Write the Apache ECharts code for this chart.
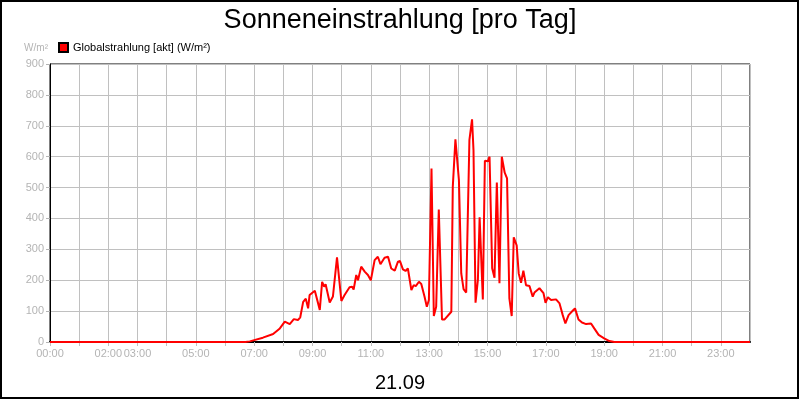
<!DOCTYPE html>
<html>
<head>
<meta charset="utf-8">
<title>Sonneneinstrahlung</title>
<script src="https://cdn.jsdelivr.net/npm/echarts@6/dist/echarts.min.js"></script>
<style>
  html, body { margin: 0; padding: 0; background: #fff; }
  #chart { width: 800px; height: 400px; }
</style>
</head>
<body>
<div id="chart"></div>
<script>
// Zeitpunkte (Stunden des Tages) und Messwerte Globalstrahlung in W/m²
var hours = [
  0, 6.7, 6.85, 7.0, 7.3, 7.65, 7.88, 8.05, 8.22, 8.36, 8.5, 8.58, 8.68, 8.77, 8.85, 8.9,
  9.08, 9.25, 9.33, 9.4, 9.45, 9.59, 9.7, 9.84, 9.99, 10.1, 10.27, 10.36, 10.41, 10.5,
  10.56, 10.67, 10.79, 10.9, 11.0, 11.13, 11.24, 11.33, 11.47, 11.59, 11.7, 11.82, 11.93,
  12.0, 12.1, 12.19, 12.27, 12.39, 12.47, 12.54, 12.65, 12.73, 12.84, 12.92, 12.99,
  13.08, 13.16, 13.24, 13.33, 13.38, 13.44, 13.53, 13.76, 13.81, 13.9, 14.02, 14.1,
  14.18, 14.27, 14.38, 14.47, 14.52, 14.59, 14.67, 14.73, 14.77, 14.84, 14.91, 15.01,
  15.07, 15.1, 15.16, 15.24, 15.32, 15.41, 15.49, 15.59, 15.67, 15.75, 15.83, 15.9,
  16.0, 16.07, 16.15, 16.23, 16.32, 16.44, 16.55, 16.61, 16.78, 16.92, 16.99, 17.07,
  17.18, 17.35, 17.47, 17.58, 17.67, 17.78, 17.92, 18.0, 18.12, 18.24, 18.38, 18.55,
  18.66, 18.81, 19.0, 19.18, 19.35, 24
];
var globalstrahlung = [
  0, 0, 2, 6, 14, 26, 44, 66, 58, 74, 71, 80, 130, 140, 109, 152,
  166, 104, 195, 179, 187, 128, 147, 274, 133, 152, 177, 179, 170, 217,
  200, 244, 228, 217, 200, 265, 276, 252, 273, 276, 238, 231, 260,
  262, 235, 230, 238, 168, 184, 181, 195, 188, 147, 114, 136,
  562, 84, 114, 429, 425, 73, 73, 98, 503, 656, 524, 222,
  171, 160, 654, 721, 621, 127, 201, 404, 400, 138, 587, 585,
  600, 598, 239, 208, 516, 190, 600, 548, 530, 141, 84, 339,
  313, 222, 192, 231, 184, 181, 147, 160, 174, 158, 127, 145,
  136, 138, 125, 87, 60, 87, 101, 109, 73, 63, 58, 60,
  44, 23, 12, 3, 0, 0
];
// beschriftete Stunden auf der x-Achse (wie im Original)
var labelHours = [0, 2, 3, 5, 7, 9, 11, 13, 15, 17, 19, 21, 23];
var dayLabel = '21.09';

var points = hours.map(function (h, i) { return [h, globalstrahlung[i]]; });

function pad(n) { return (n < 10 ? '0' : '') + n; }

var myChart = echarts.init(document.getElementById('chart'), null, { renderer: 'canvas' });
myChart.setOption({
  animation: false,
  backgroundColor: '#fff',
  textStyle: { fontFamily: 'Liberation Sans, Arial, sans-serif' },
  title: {
    text: 'Sonneneinstrahlung [pro Tag]',
    left: 'center',
    top: 2,
    textStyle: { fontSize: 27, fontWeight: 'normal', color: '#000' }
  },
  legend: {
    left: 53,
    top: 37,
    itemWidth: 9,
    itemHeight: 9,
    itemGap: 4,
    textStyle: { fontSize: 11, color: '#000' },
    data: [{ name: 'Globalstrahlung [akt] (W/m²)', icon: 'rect' }]
  },
  grid: {
    left: 50,
    right: 50,
    top: 64,
    bottom: 58,
    outerBoundsMode: 'none',
    show: true,
    borderColor: '#000',
    borderWidth: 1
  },
  xAxis: {
    type: 'value',
    min: 0,
    max: 24,
    interval: 1,
    name: dayLabel,
    nameLocation: 'middle',
    nameGap: 31,
    nameTextStyle: { fontSize: 20, color: '#000' },
    axisLine: { lineStyle: { color: '#000', width: 2 } },
    axisTick: { show: true, length: 4, lineStyle: { color: '#c0c0c0' } },
    axisLabel: {
      color: '#b4b4b4',
      fontSize: 11,
      margin: 6,
      showMaxLabel: false,
      formatter: function (v) {
        return labelHours.indexOf(v) >= 0 ? pad(v) + ':00' : '';
      }
    },
    splitLine: { show: true, lineStyle: { color: '#c0c0c0', width: 1 } }
  },
  yAxis: {
    type: 'value',
    min: 0,
    max: 900,
    interval: 100,
    name: 'W/m²',
    nameLocation: 'end',
    nameGap: 11,
    nameTextStyle: { fontSize: 10, color: '#b4b4b4', align: 'right', padding: [0, 2, 0, 0] },
    axisLine: { show: true, lineStyle: { color: '#000', width: 1 } },
    axisTick: { show: true, length: 4, lineStyle: { color: '#b4b4b4' } },
    axisLabel: { color: '#b4b4b4', fontSize: 11, margin: 6 },
    splitLine: { show: true, lineStyle: { color: '#c0c0c0', width: 1 } }
  },
  graphic: [{
    type: 'rect',
    shape: { x: 1, y: 1, width: 797, height: 397 },
    style: { fill: 'none', stroke: '#000', lineWidth: 2 },
    silent: true
  }],
  series: [{
    name: 'Globalstrahlung [akt] (W/m²)',
    type: 'line',
    data: points,
    showSymbol: false,
    itemStyle: { color: '#ff0000', borderColor: '#000', borderWidth: 1 },
    lineStyle: { color: '#ff0000', width: 2 }
  }]
});
</script>
</body>
</html>
